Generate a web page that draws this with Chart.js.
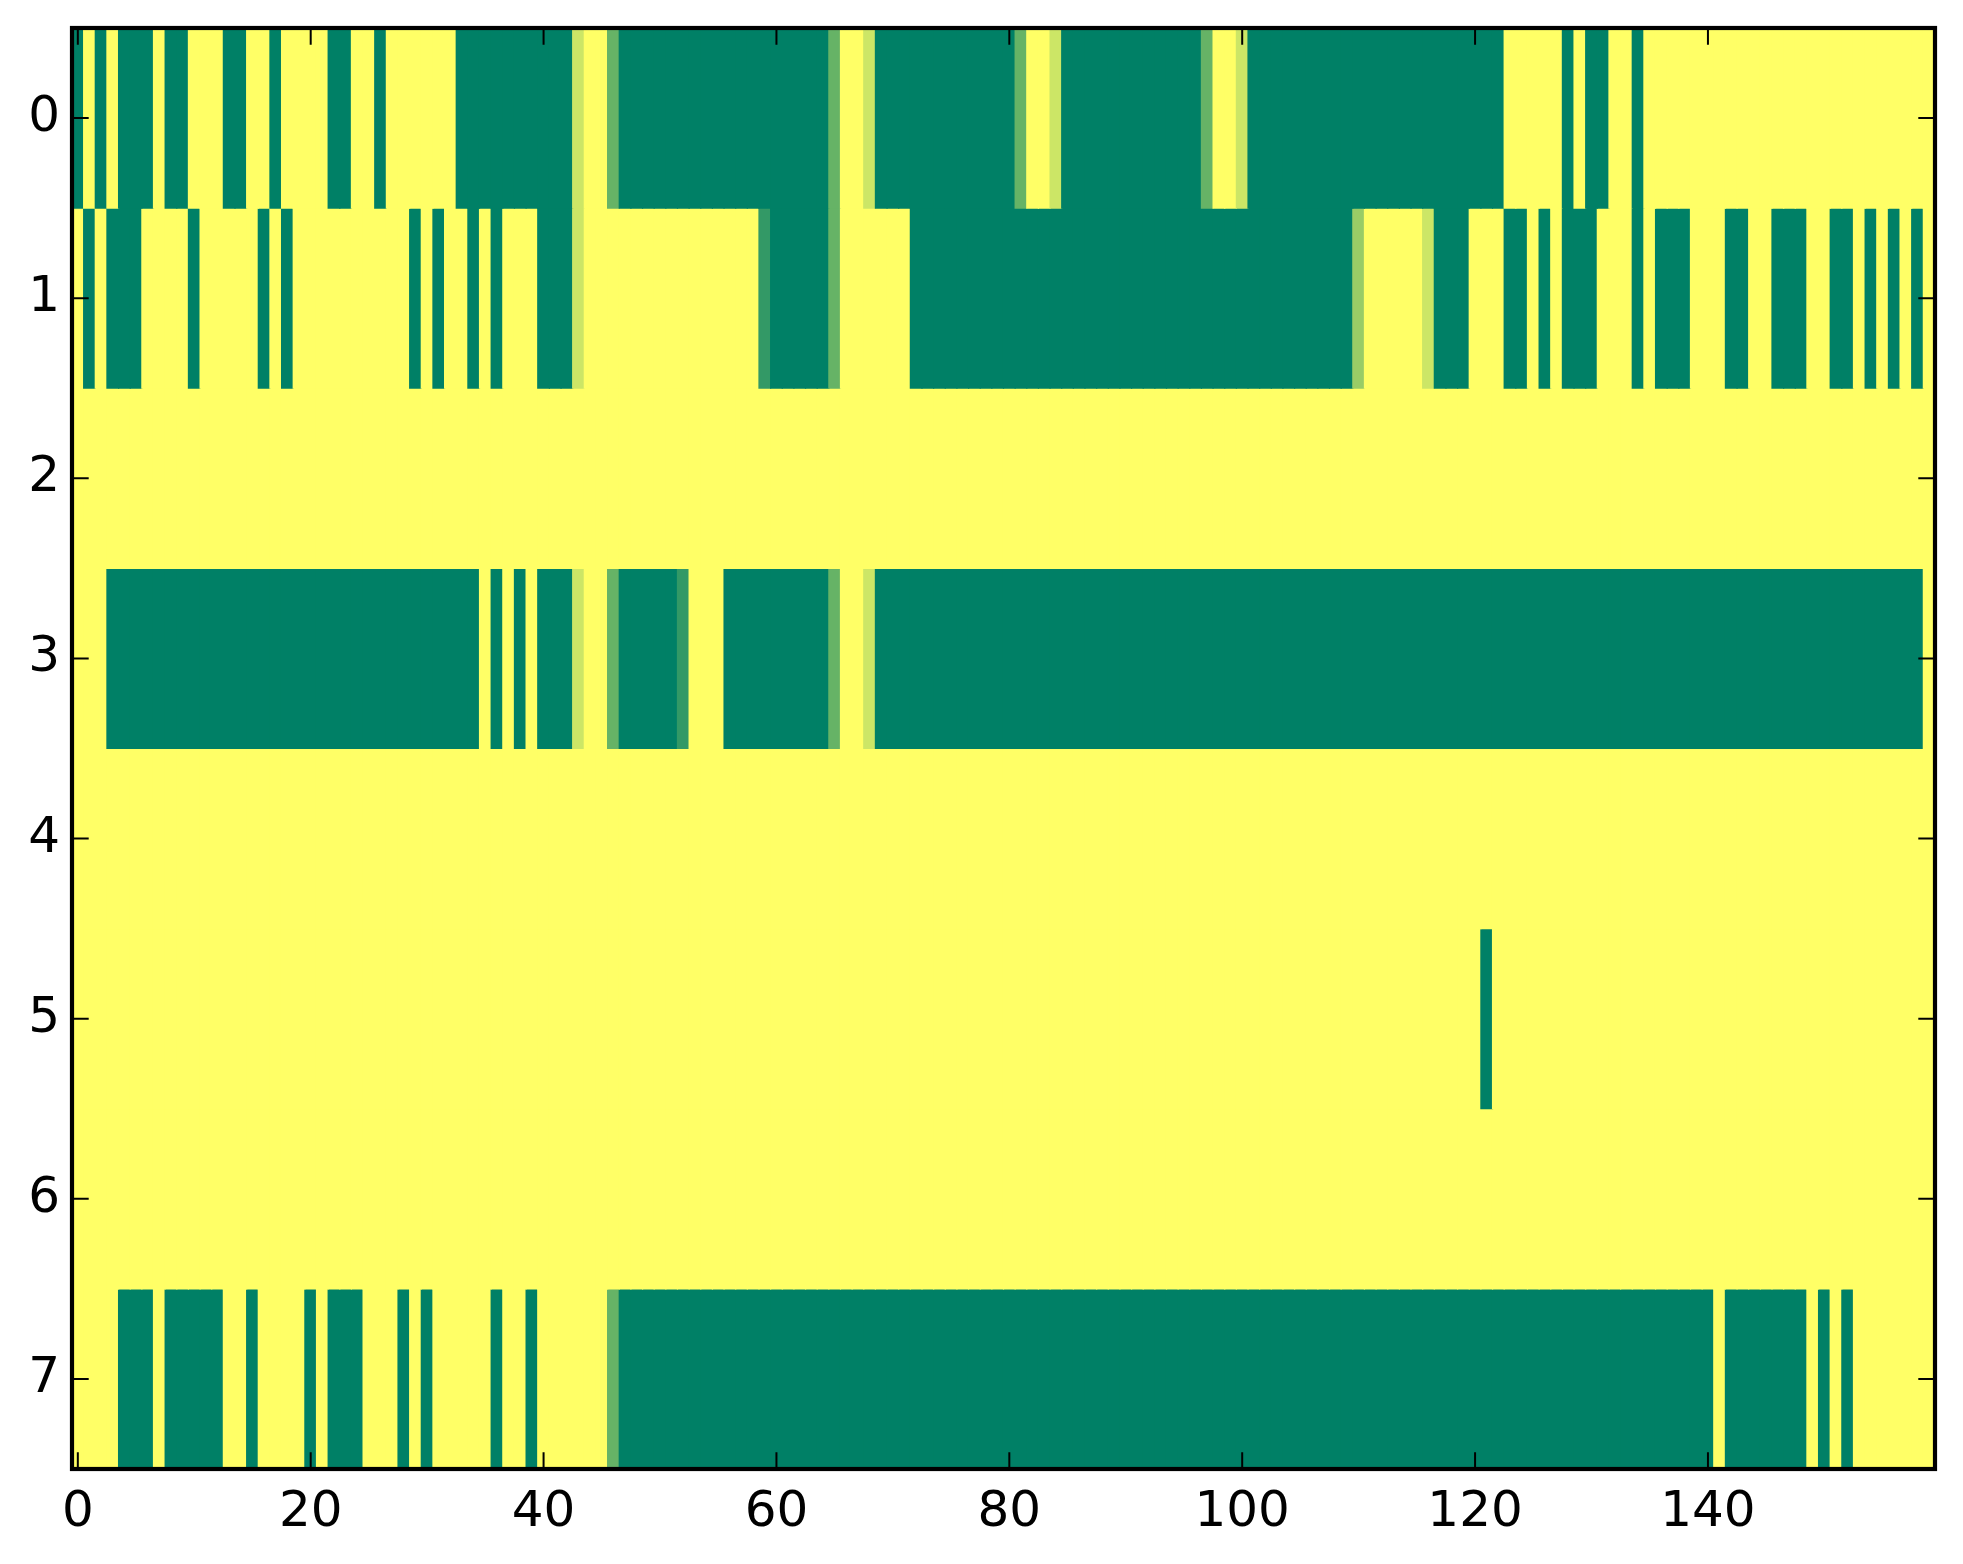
<!DOCTYPE html>
<html>
<head>
<meta charset="utf-8">
<script src="https://cdn.jsdelivr.net/npm/chart.js@4.4.1/dist/chart.umd.min.js"></script>
<style>
  html, body { margin: 0; padding: 0; background: #fff; }
  #wrap { width: 1963px; height: 1564px; position: relative; }
</style>
</head>
<body>
<div id="wrap"><canvas id="heat"></canvas></div>
<script>
// one array per image row, 160 columns each (0 = green end, 1 = yellow end of the colormap)
const row0 = [
  0, 1, 0, 1, 0, 0, 0, 1, 0, 0,   1, 1, 1, 0, 0, 1, 1, 0, 1, 1,
  1, 1, 0, 0, 1, 1, 0, 1, 1, 1,   1, 1, 1, 0, 0, 0, 0, 0, 0, 0,
  0, 0, 0, 0.8, 1, 1, 0.4, 0, 0, 0,   0, 0, 0, 0, 0, 0, 0, 0, 0, 0,
  0, 0, 0, 0, 0, 0.4, 1, 1, 0.8, 0,   0, 0, 0, 0, 0, 0, 0, 0, 0, 0,
  0, 0.4, 1, 1, 0.8, 0, 0, 0, 0, 0,   0, 0, 0, 0, 0, 0, 0, 0.4, 1, 1,
  0.8, 0, 0, 0, 0, 0, 0, 0, 0, 0,   0, 0, 0, 0, 0, 0, 0, 0, 0, 0,
  0, 0, 0, 1, 1, 1, 1, 1, 0, 1,   0, 0, 1, 1, 0, 1, 1, 1, 1, 1,
  1, 1, 1, 1, 1, 1, 1, 1, 1, 1,   1, 1, 1, 1, 1, 1, 1, 1, 1, 1
];
const row1 = [
  1, 0, 1, 0, 0, 0, 1, 1, 1, 1,   0, 1, 1, 1, 1, 1, 0, 1, 0, 1,
  1, 1, 1, 1, 1, 1, 1, 1, 1, 0,   1, 0, 1, 1, 0, 1, 0, 1, 1, 1,
  0, 0, 0, 0.8, 1, 1, 1, 1, 1, 1,   1, 1, 1, 1, 1, 1, 1, 1, 1, 0.2,
  0, 0, 0, 0, 0, 0.4, 1, 1, 1, 1,   1, 1, 0, 0, 0, 0, 0, 0, 0, 0,
  0, 0, 0, 0, 0, 0, 0, 0, 0, 0,   0, 0, 0, 0, 0, 0, 0, 0, 0, 0,
  0, 0, 0, 0, 0, 0, 0, 0, 0, 0,   0.6, 1, 1, 1, 1, 1, 0.8, 0, 0, 0,
  1, 1, 1, 0, 0, 1, 0, 1, 0, 0,   0, 1, 1, 1, 0, 1, 0, 0, 0, 1,
  1, 1, 0, 0, 1, 1, 0, 0, 0, 1,   1, 0, 0, 1, 0, 1, 0, 1, 0, 1
];
const row2 = [
  1, 1, 1, 1, 1, 1, 1, 1, 1, 1,   1, 1, 1, 1, 1, 1, 1, 1, 1, 1,
  1, 1, 1, 1, 1, 1, 1, 1, 1, 1,   1, 1, 1, 1, 1, 1, 1, 1, 1, 1,
  1, 1, 1, 1, 1, 1, 1, 1, 1, 1,   1, 1, 1, 1, 1, 1, 1, 1, 1, 1,
  1, 1, 1, 1, 1, 1, 1, 1, 1, 1,   1, 1, 1, 1, 1, 1, 1, 1, 1, 1,
  1, 1, 1, 1, 1, 1, 1, 1, 1, 1,   1, 1, 1, 1, 1, 1, 1, 1, 1, 1,
  1, 1, 1, 1, 1, 1, 1, 1, 1, 1,   1, 1, 1, 1, 1, 1, 1, 1, 1, 1,
  1, 1, 1, 1, 1, 1, 1, 1, 1, 1,   1, 1, 1, 1, 1, 1, 1, 1, 1, 1,
  1, 1, 1, 1, 1, 1, 1, 1, 1, 1,   1, 1, 1, 1, 1, 1, 1, 1, 1, 1
];
const row3 = [
  1, 1, 1, 0, 0, 0, 0, 0, 0, 0,   0, 0, 0, 0, 0, 0, 0, 0, 0, 0,
  0, 0, 0, 0, 0, 0, 0, 0, 0, 0,   0, 0, 0, 0, 0, 1, 0, 1, 0, 1,
  0, 0, 0, 0.8, 1, 1, 0.4, 0, 0, 0,   0, 0, 0.2, 1, 1, 1, 0, 0, 0, 0,
  0, 0, 0, 0, 0, 0.4, 1, 1, 0.8, 0,   0, 0, 0, 0, 0, 0, 0, 0, 0, 0,
  0, 0, 0, 0, 0, 0, 0, 0, 0, 0,   0, 0, 0, 0, 0, 0, 0, 0, 0, 0,
  0, 0, 0, 0, 0, 0, 0, 0, 0, 0,   0, 0, 0, 0, 0, 0, 0, 0, 0, 0,
  0, 0, 0, 0, 0, 0, 0, 0, 0, 0,   0, 0, 0, 0, 0, 0, 0, 0, 0, 0,
  0, 0, 0, 0, 0, 0, 0, 0, 0, 0,   0, 0, 0, 0, 0, 0, 0, 0, 0, 1
];
const row4 = [
  1, 1, 1, 1, 1, 1, 1, 1, 1, 1,   1, 1, 1, 1, 1, 1, 1, 1, 1, 1,
  1, 1, 1, 1, 1, 1, 1, 1, 1, 1,   1, 1, 1, 1, 1, 1, 1, 1, 1, 1,
  1, 1, 1, 1, 1, 1, 1, 1, 1, 1,   1, 1, 1, 1, 1, 1, 1, 1, 1, 1,
  1, 1, 1, 1, 1, 1, 1, 1, 1, 1,   1, 1, 1, 1, 1, 1, 1, 1, 1, 1,
  1, 1, 1, 1, 1, 1, 1, 1, 1, 1,   1, 1, 1, 1, 1, 1, 1, 1, 1, 1,
  1, 1, 1, 1, 1, 1, 1, 1, 1, 1,   1, 1, 1, 1, 1, 1, 1, 1, 1, 1,
  1, 1, 1, 1, 1, 1, 1, 1, 1, 1,   1, 1, 1, 1, 1, 1, 1, 1, 1, 1,
  1, 1, 1, 1, 1, 1, 1, 1, 1, 1,   1, 1, 1, 1, 1, 1, 1, 1, 1, 1
];
const row5 = [
  1, 1, 1, 1, 1, 1, 1, 1, 1, 1,   1, 1, 1, 1, 1, 1, 1, 1, 1, 1,
  1, 1, 1, 1, 1, 1, 1, 1, 1, 1,   1, 1, 1, 1, 1, 1, 1, 1, 1, 1,
  1, 1, 1, 1, 1, 1, 1, 1, 1, 1,   1, 1, 1, 1, 1, 1, 1, 1, 1, 1,
  1, 1, 1, 1, 1, 1, 1, 1, 1, 1,   1, 1, 1, 1, 1, 1, 1, 1, 1, 1,
  1, 1, 1, 1, 1, 1, 1, 1, 1, 1,   1, 1, 1, 1, 1, 1, 1, 1, 1, 1,
  1, 1, 1, 1, 1, 1, 1, 1, 1, 1,   1, 1, 1, 1, 1, 1, 1, 1, 1, 1,
  1, 0, 1, 1, 1, 1, 1, 1, 1, 1,   1, 1, 1, 1, 1, 1, 1, 1, 1, 1,
  1, 1, 1, 1, 1, 1, 1, 1, 1, 1,   1, 1, 1, 1, 1, 1, 1, 1, 1, 1
];
const row6 = [
  1, 1, 1, 1, 1, 1, 1, 1, 1, 1,   1, 1, 1, 1, 1, 1, 1, 1, 1, 1,
  1, 1, 1, 1, 1, 1, 1, 1, 1, 1,   1, 1, 1, 1, 1, 1, 1, 1, 1, 1,
  1, 1, 1, 1, 1, 1, 1, 1, 1, 1,   1, 1, 1, 1, 1, 1, 1, 1, 1, 1,
  1, 1, 1, 1, 1, 1, 1, 1, 1, 1,   1, 1, 1, 1, 1, 1, 1, 1, 1, 1,
  1, 1, 1, 1, 1, 1, 1, 1, 1, 1,   1, 1, 1, 1, 1, 1, 1, 1, 1, 1,
  1, 1, 1, 1, 1, 1, 1, 1, 1, 1,   1, 1, 1, 1, 1, 1, 1, 1, 1, 1,
  1, 1, 1, 1, 1, 1, 1, 1, 1, 1,   1, 1, 1, 1, 1, 1, 1, 1, 1, 1,
  1, 1, 1, 1, 1, 1, 1, 1, 1, 1,   1, 1, 1, 1, 1, 1, 1, 1, 1, 1
];
const row7 = [
  1, 1, 1, 1, 0, 0, 0, 1, 0, 0,   0, 0, 0, 1, 1, 0, 1, 1, 1, 1,
  0, 1, 0, 0, 0, 1, 1, 1, 0, 1,   0, 1, 1, 1, 1, 1, 0, 1, 1, 0,
  1, 1, 1, 1, 1, 1, 0.4, 0, 0, 0,   0, 0, 0, 0, 0, 0, 0, 0, 0, 0,
  0, 0, 0, 0, 0, 0, 0, 0, 0, 0,   0, 0, 0, 0, 0, 0, 0, 0, 0, 0,
  0, 0, 0, 0, 0, 0, 0, 0, 0, 0,   0, 0, 0, 0, 0, 0, 0, 0, 0, 0,
  0, 0, 0, 0, 0, 0, 0, 0, 0, 0,   0, 0, 0, 0, 0, 0, 0, 0, 0, 0,
  0, 0, 0, 0, 0, 0, 0, 0, 0, 0,   0, 0, 0, 0, 0, 0, 0, 0, 0, 0,
  0, 1, 0, 0, 0, 0, 0, 0, 0, 1,   0, 1, 0, 1, 1, 1, 1, 1, 1, 1
];

const xTicks = [0, 20, 40, 60, 80, 100, 120, 140];
const yTicks = [0, 1, 2, 3, 4, 5, 6, 7];

const rows = [row0, row1, row2, row3, row4, row5, row6, row7];
const nCols = row0.length;

// matplotlib "summer" colormap: (v, 0.5 + v/2, 0.4)
function summer(v) {
    return 'rgb(' + Math.round(255 * v) + ',' + Math.round(255 * (0.5 + v / 2)) + ',102)';
}

const tickFont = { family: "'DejaVu Sans', sans-serif", size: 50 };
const TICK_LEN = 16.7;

// inward ticks on all four sides plus the black frame
const framePlugin = {
    id: 'frame',
    afterDraw(chart) {
        const ctx = chart.ctx;
        const a = chart.chartArea;
        const sx = chart.scales.x, sy = chart.scales.y;
        ctx.save();
        ctx.strokeStyle = '#000';
        ctx.lineWidth = 2;
        ctx.beginPath();
        xTicks.forEach(v => {
            const px = sx.getPixelForValue(v);
            ctx.moveTo(px, a.bottom); ctx.lineTo(px, a.bottom - TICK_LEN);
            ctx.moveTo(px, a.top); ctx.lineTo(px, a.top + TICK_LEN);
        });
        yTicks.forEach(v => {
            const py = sy.getPixelForValue(v);
            ctx.moveTo(a.left, py); ctx.lineTo(a.left + TICK_LEN, py);
            ctx.moveTo(a.right, py); ctx.lineTo(a.right - TICK_LEN, py);
        });
        ctx.stroke();
        ctx.lineWidth = 4.2;
        ctx.strokeRect(a.left, a.top, a.right - a.left, a.bottom - a.top);
        ctx.restore();
    }
};

// drop the extra room Chart.js keeps for edge labels
function noEdgePadding(s) {
    s.paddingTop = 0;
    s.paddingBottom = 0;
    s.paddingLeft = 0;
    s.paddingRight = 0;
}

document.addEventListener("DOMContentLoaded", function() {
    // each image row is one dataset of floating bars, one bar per column
    const datasets = rows.map((vals, r) => ({
        data: vals.map((v, c) => ({ x: c, y: [r - 0.5, r + 0.5] })),
        backgroundColor: vals.map(summer),
        borderWidth: 0,
        barPercentage: 1,
        categoryPercentage: 1,
        inflateAmount: 0.6,
        grouped: false
    }));

    const ctx = document.getElementById('heat').getContext('2d');
    new Chart(ctx, {
        type: 'bar',
        data: { datasets: datasets },
        options: {
            responsive: true,
            maintainAspectRatio: false,
            animation: false,
            events: [],
            layout: { padding: { left: 0, top: 28, right: 28, bottom: 0 } },
            scales: {
                x: {
                    type: 'linear',
                    min: -0.5,
                    max: nCols - 0.5,
                    offset: false,
                    grid: { display: false, drawTicks: false },
                    border: { display: false },
                    ticks: { font: tickFont, color: '#000', padding: 14, maxRotation: 0, autoSkip: false },
                    afterBuildTicks: s => { s.ticks = xTicks.map(v => ({ value: v })); },
                    afterFit: s => { s.height = 95; noEdgePadding(s); }
                },
                y: {
                    type: 'linear',
                    reverse: true,
                    min: -0.5,
                    max: yTicks.length - 0.5,
                    grid: { display: false, drawTicks: false },
                    border: { display: false },
                    ticks: { font: tickFont, color: '#000', padding: 12, autoSkip: false },
                    afterBuildTicks: s => { s.ticks = yTicks.map(v => ({ value: v })); },
                    afterFit: s => { s.width = 72; noEdgePadding(s); }
                }
            },
            plugins: {
                legend: { display: false },
                tooltip: { enabled: false }
            }
        },
        plugins: [framePlugin]
    });
});
</script>
</body>
</html>
